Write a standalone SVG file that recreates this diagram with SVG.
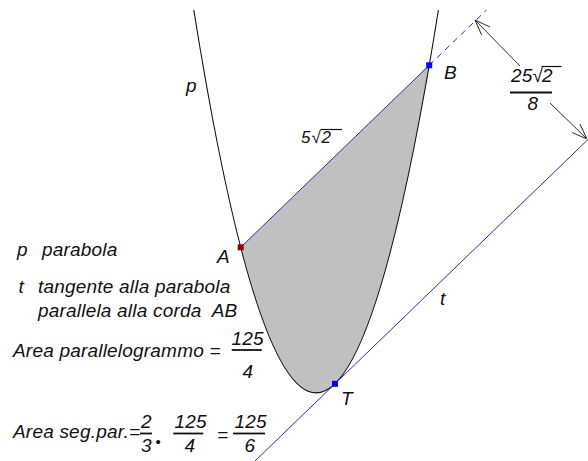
<svg xmlns="http://www.w3.org/2000/svg" width="588" height="461" viewBox="0 0 588 461">
<style>
text{font-family:"Liberation Sans",Arial,sans-serif;font-style:italic;font-size:19px;fill:#111;letter-spacing:0.2px}
.blue{stroke:#2a2ab8;stroke-width:1;fill:none}
.dim{stroke:#333;stroke-width:1;fill:none}
.ov{stroke:#111;stroke-width:1.2}
.bar{stroke:#111;stroke-width:1.8}
</style>
<defs>
<marker id="arr" viewBox="0 0 16 12" refX="16" refY="6" markerWidth="16" markerHeight="12" markerUnits="userSpaceOnUse" orient="auto">
<path d="M0,0 L16,6 L0,12" fill="none" stroke="#333" stroke-width="1"/>
</marker>
</defs>
<g id="segment">
<path d="M240.7,247.3 Q334.95,611.3 429.2,65.3 Z" fill="#c0c0c0" stroke="none"/>
</g>
<g id="parabola">
<path d="M193.8,10 Q316.1,775.8 438.4,10" fill="none" stroke="#111" stroke-width="1.1"/>
<text x="186" y="92">p</text>
</g>
<g id="connectors">
<line id="chord" class="blue" x1="240.7" y1="247.3" x2="429.2" y2="65.3"/>
<line id="chord-ext" class="blue" x1="429.2" y1="65.3" x2="486.5" y2="10" stroke-dasharray="6,5"/>
<line id="tangent" class="blue" x1="255" y1="461" x2="588" y2="139.5"/>
<line class="dim" x1="520" y1="66" x2="475" y2="20" marker-end="url(#arr)"/>
<line class="dim" x1="550" y1="103" x2="587" y2="139" marker-end="url(#arr)"/>
</g>
<g id="pointA">
<rect x="237.7" y="244.3" width="6" height="6" fill="#8b0000"/>
<text x="217" y="263">A</text>
</g>
<g id="pointB">
<rect x="426.2" y="62.3" width="6" height="6" fill="#0000ff"/>
<text x="444" y="79">B</text>
</g>
<g id="pointT">
<rect x="332" y="380.8" width="6" height="6" fill="#0000ff"/>
<text x="341" y="405">T</text>
</g>
<g id="labels">
<text x="440" y="305">t</text>
<text y="143" style="font-size:17px"><tspan x="301">5</tspan><tspan x="311.5">√</tspan><tspan x="321.5">2</tspan></text>
<line class="ov" x1="320.5" y1="129.5" x2="342" y2="129.5"/>
<text y="82"><tspan x="511">25</tspan><tspan x="532.5">√</tspan><tspan x="542">2</tspan></text>
<line class="ov" x1="541.5" y1="66.5" x2="561.5" y2="66.5"/>
<line class="bar" x1="510" y1="92.5" x2="552" y2="92.5"/>
<text x="527.5" y="110">8</text>
</g>
<g id="legend">
<text x="17" y="256">p</text>
<text x="42" y="256">parabola</text>
<text x="18.5" y="293">t</text>
<text x="38" y="293">tangente alla parabola</text>
<text x="38" y="317" xml:space="preserve">parallela alla corda  AB</text>
<text x="13" y="357">Area parallelogrammo =</text>
<text x="231.5" y="345">125</text>
<line class="bar" x1="231.7" y1="350" x2="261.7" y2="350"/>
<text x="242.5" y="378">4</text>
<text x="13" y="438">Area seg.par.=</text>
<text x="141" y="428">2</text>
<line class="bar" x1="140" y1="433.5" x2="152" y2="433.5"/>
<text x="141" y="451.5">3</text>
<text x="155.5" y="447" style="font-size:15px;font-style:normal">•</text>
<text x="174.5" y="428">125</text>
<line class="bar" x1="173.3" y1="433.5" x2="203.3" y2="433.5"/>
<text x="184.5" y="451.5">4</text>
<text x="217" y="441">=</text>
<text x="234.5" y="428">125</text>
<line class="bar" x1="233" y1="433.5" x2="265" y2="433.5"/>
<text x="244.5" y="451.5">6</text>
</g>
</svg>
